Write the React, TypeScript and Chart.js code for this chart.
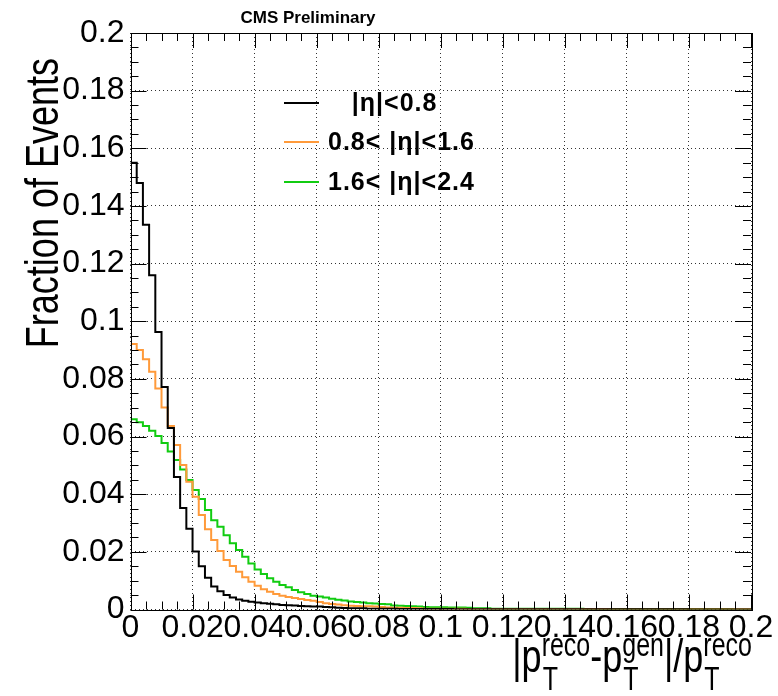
import React, { useEffect, useRef } from "react";
import { Chart, registerables } from "chart.js";

Chart.register(...registerables);

// Histogram range: 100 bins over [0, 0.2]
const xMin = 0;
const xMax = 0.2;

const xTickValues = [0, 0.02, 0.04, 0.06, 0.08, 0.1, 0.12, 0.14, 0.16, 0.18, 0.2];
const xTickLabels = ["0", "0.02", "0.04", "0.06", "0.08", "0.1", "0.12", "0.14", "0.16", "0.18", "0.2"];
const yTickValues = [0, 0.02, 0.04, 0.06, 0.08, 0.1, 0.12, 0.14, 0.16, 0.18, 0.2];
const yTickLabels = ["0", "0.02", "0.04", "0.06", "0.08", "0.1", "0.12", "0.14", "0.16", "0.18", "0.2"];

const seriesLabels = ["   |η|<0.8", "0.8< |η|<1.6", "1.6< |η|<2.4"];
const seriesColors = ["#000000", "#ff9a3a", "#11cc11"];

// Fraction of events per bin, |eta| < 0.8
const etaBarrel = [
  0.155, 0.148, 0.1335, 0.116, 0.0963, 0.0772, 0.063, 0.046, 0.0352, 0.028,
  0.0201, 0.015, 0.011, 0.008, 0.0063, 0.005, 0.0042, 0.0035, 0.003, 0.0027,
  0.0024, 0.0022, 0.002, 0.0018, 0.0016, 0.0015, 0.0014, 0.0012, 0.0011, 0.001,
  0.001, 0.0009, 0.0008, 0.0006, 0.0005, 0.0004, 0.0004, 0.0004, 0.0003, 0.0003,
  0.0003, 0.0003, 0.0003, 0.0002, 0.0002, 0.0002, 0.0002, 0.0002, 0.0002, 0.0002,
  0.0002, 0.0002, 0.0001, 0.0001, 0.0001, 0.0001, 0.0001, 0.0001, 0.0001, 0.0001,
  0.0001, 0.0001, 0.0001, 0.0001, 0.0001, 0.0001, 0.0001, 0.0001, 0.0001, 0.0001,
  0.0001, 0.0001, 0.0001, 0.0001, 0.0001, 0.0001, 0.0001, 0.00005, 0.00005, 0.00005,
  0.00005, 0.00005, 0.00005, 0.00005, 0.00005, 0.00005, 0.00005, 0.00005, 0.00005, 0.00005,
  0.00003, 0.00003, 0.00003, 0.00003, 0.00003, 0.00003, 0.00003, 0.00003, 0.00003, 0.00003,
];

// Fraction of events per bin, 0.8 < |eta| < 1.6
const etaOverlap = [
  0.0921, 0.09, 0.0868, 0.0825, 0.0767, 0.0701, 0.0637, 0.0571, 0.0501, 0.0443,
  0.0391, 0.0328, 0.0278, 0.0241, 0.0203, 0.0172, 0.0151, 0.0131, 0.0112, 0.0096,
  0.0082, 0.007, 0.0062, 0.0054, 0.0048, 0.0043, 0.004, 0.0036, 0.0033, 0.003,
  0.0026, 0.0022, 0.0019, 0.0017, 0.0015, 0.0013, 0.0012, 0.0011, 0.0011, 0.001,
  0.0009, 0.0007, 0.0006, 0.0006, 0.0005, 0.0005, 0.0004, 0.0003, 0.0003, 0.0003,
  0.0003, 0.0003, 0.0003, 0.0003, 0.0002, 0.0002, 0.0002, 0.0002, 0.0002, 0.0002,
  0.0002, 0.0002, 0.0002, 0.0002, 0.0002, 0.0002, 0.0002, 0.0002, 0.0002, 0.0002,
  0.0002, 0.0002, 0.0002, 0.0002, 0.0002, 0.0002, 0.0002, 0.0001, 0.0001, 0.0001,
  0.0001, 0.0001, 0.0001, 0.0001, 0.0001, 0.0001, 0.0001, 0.0001, 0.0001, 0.0001,
  0.0001, 0.0001, 0.0001, 0.0001, 0.0001, 0.0001, 0.0001, 0.0001, 0.00005, 0.00005,
];

// Fraction of events per bin, 1.6 < |eta| < 2.4
const etaEndcap = [
  0.066, 0.065, 0.0637, 0.062, 0.0602, 0.0578, 0.0548, 0.0519, 0.0486, 0.0449,
  0.0415, 0.0383, 0.0345, 0.031, 0.0287, 0.0258, 0.023, 0.0206, 0.0183, 0.016,
  0.0139, 0.0123, 0.0108, 0.0096, 0.0085, 0.0077, 0.0068, 0.006, 0.0054, 0.0048,
  0.0045, 0.0042, 0.0037, 0.0034, 0.0031, 0.0028, 0.0026, 0.0024, 0.0022, 0.0021,
  0.0019, 0.0018, 0.0014, 0.0013, 0.0012, 0.0011, 0.001, 0.0009, 0.0008, 0.0008,
  0.0008, 0.0007, 0.0007, 0.0007, 0.0006, 0.0004, 0.0004, 0.0004, 0.0003, 0.0003,
  0.0003, 0.0003, 0.0003, 0.0003, 0.0003, 0.0003, 0.0003, 0.0003, 0.0003, 0.0003,
  0.0003, 0.0003, 0.0003, 0.0002, 0.0002, 0.0002, 0.0002, 0.0002, 0.0002, 0.0002,
  0.0002, 0.0002, 0.0002, 0.0002, 0.0002, 0.0002, 0.0002, 0.0002, 0.0002, 0.0002,
  0.0002, 0.0002, 0.0002, 0.0002, 0.0002, 0.0002, 0.0002, 0, 0, 0,
];

const FONT = "'Liberation Sans', Arial, Helvetica, sans-serif";
// Axis titles are drawn with taller glyphs than their width suggests
const TITLE_STRETCH = 1.3;

// Convert bin contents into step points at the low bin edges plus the upper edge.
function toSteps(values: number[]) {
  const w = (xMax - xMin) / values.length;
  const pts = values.map((v, i) => ({ x: xMin + i * w, y: v }));
  pts.push({ x: xMax, y: values[values.length - 1] });
  return pts;
}

// Draw text whose glyphs are stretched upward from the baseline.
function tallText(ctx: CanvasRenderingContext2D, text: string, x: number, y: number) {
  ctx.save();
  ctx.translate(x, y);
  ctx.scale(1, TITLE_STRETCH);
  ctx.fillText(text, 0, 0);
  ctx.restore();
}

// Frame, inward ticks on all four sides, titles, legend and header text.
const decorations = {
  id: "rootStyleDecorations",
  afterDatasetsDraw(chart: any) {
    const { ctx, chartArea: a, scales } = chart;
    const xs = scales.x;
    const ys = scales.y;
    ctx.save();
    ctx.strokeStyle = "#000";
    ctx.lineWidth = 1;

    // Ticks: majors at tick values, three minors in between
    const drawTicks = (vals: number[], isX: boolean) => {
      const major = isX ? 15 : 16;
      const minor = 8;
      for (let i = 0; i < vals.length; i++) {
        const list: [number, number][] = [[vals[i], major]];
        if (i < vals.length - 1) {
          const step = (vals[i + 1] - vals[i]) / 4;
          for (let k = 1; k < 4; k++) list.push([vals[i] + k * step, minor]);
        }
        for (const [v, len] of list) {
          ctx.beginPath();
          if (isX) {
            const px = Math.round(xs.getPixelForValue(v)) + 0.5;
            ctx.moveTo(px, a.bottom);
            ctx.lineTo(px, a.bottom - len);
            ctx.moveTo(px, a.top);
            ctx.lineTo(px, a.top + len);
          } else {
            const py = Math.round(ys.getPixelForValue(v)) + 0.5;
            ctx.moveTo(a.left, py);
            ctx.lineTo(a.left + len, py);
            ctx.moveTo(a.right, py);
            ctx.lineTo(a.right - len, py);
          }
          ctx.stroke();
        }
      }
    };
    drawTicks(xTickValues, true);
    drawTicks(yTickValues, false);

    ctx.strokeRect(Math.round(a.left) + 0.5, Math.round(a.top) + 0.5,
      Math.round(a.right - a.left), Math.round(a.bottom - a.top));

    ctx.fillStyle = "#000";

    // Header
    ctx.font = `bold 17px ${FONT}`;
    ctx.textAlign = "center";
    ctx.textBaseline = "alphabetic";
    ctx.fillText("CMS Preliminary", 308, 23);

    // Y title, right-aligned to the top of the axis
    ctx.save();
    ctx.translate(58, 58);
    ctx.rotate(-Math.PI / 2);
    ctx.font = `36px ${FONT}`;
    ctx.textAlign = "right";
    tallText(ctx, "Fraction of Events", 0, 0);
    ctx.restore();

    // X title with super/subscripts
    const parts = [
      { main: "|p", sup: "reco", sub: "T" },
      { main: "-p", sup: "gen", sub: "T" },
      { main: "|/p", sup: "reco", sub: "T" },
    ];
    const mainFont = `36px ${FONT}`;
    const scriptFont = `25px ${FONT}`;
    let total = 0;
    const widths = parts.map((p) => {
      ctx.font = mainFont;
      const mw = ctx.measureText(p.main).width;
      ctx.font = scriptFont;
      const sw = Math.max(ctx.measureText(p.sup).width, ctx.measureText(p.sub).width);
      total += mw + sw;
      return [mw, sw];
    });
    let x = 752 - total;
    ctx.textAlign = "left";
    parts.forEach((p, i) => {
      ctx.font = mainFont;
      tallText(ctx, p.main, x, 672);
      x += widths[i][0];
      ctx.font = scriptFont;
      tallText(ctx, p.sup, x, 656);
      tallText(ctx, p.sub, x + 1, 690);
      x += widths[i][1];
    });

    // Legend
    const legendY = [103, 142, 182];
    chart.data.datasets.forEach((ds: any, i: number) => {
      ctx.strokeStyle = ds.borderColor;
      ctx.lineWidth = 2;
      ctx.beginPath();
      ctx.moveTo(284, legendY[i]);
      ctx.lineTo(319, legendY[i]);
      ctx.stroke();
      ctx.font = `bold 25px ${FONT}`;
      (ctx as any).letterSpacing = "1px";
      ctx.textBaseline = "middle";
      ctx.fillStyle = "#000";
      ctx.fillText(ds.label, 328, legendY[i] + 1);
      (ctx as any).letterSpacing = "0px";
    });
    ctx.restore();
  },
};

export default function App() {
  const canvasRef = useRef<HTMLCanvasElement | null>(null);

  useEffect(() => {
    if (!canvasRef.current) return;
    const series = [etaBarrel, etaOverlap, etaEndcap];
    const chart = new Chart(canvasRef.current, {
      type: "line",
      data: {
        datasets: series.map((vals, i) => ({
          label: seriesLabels[i],
          data: toSteps(vals),
          borderColor: seriesColors[i],
          backgroundColor: seriesColors[i],
          borderWidth: 2,
          pointRadius: 0,
          stepped: true,
          fill: false,
        })),
      },
      options: {
        animation: false,
        responsive: false,
        layout: { padding: { left: 0, top: 33, right: 27, bottom: 0 } },
        plugins: {
          legend: { display: false },
          tooltip: { enabled: false },
        },
        scales: {
          x: {
            type: "linear",
            min: xMin,
            max: xMax,
            afterBuildTicks: (scale: any) => {
              scale.ticks = xTickValues.map((v) => ({ value: v }));
            },
            afterFit: (scale: any) => {
              scale.height = 86.5;
            },
            ticks: {
              autoSkip: false,
              maxRotation: 0,
              minRotation: 0,
              padding: 3,
              color: "#000",
              font: { family: FONT, size: 32, lineHeight: 1 },
              callback: (_v: any, i: number) => xTickLabels[i],
            },
            grid: {
              color: "rgba(0,0,0,0.8)",
              lineWidth: 1,
              drawTicks: false,
            },
            border: { display: false, dash: [1, 3] },
          },
          y: {
            type: "linear",
            min: 0,
            max: 0.2,
            afterBuildTicks: (scale: any) => {
              scale.ticks = yTickValues.map((v) => ({ value: v }));
            },
            afterFit: (scale: any) => {
              scale.width = 130.5;
            },
            ticks: {
              padding: 6,
              color: "#000",
              font: { family: FONT, size: 32, lineHeight: 1 },
              callback: (_v: any, i: number) => yTickLabels[i],
            },
            grid: {
              color: "rgba(0,0,0,0.8)",
              lineWidth: 1,
              drawTicks: false,
            },
            border: { display: false, dash: [1, 3] },
          },
        },
      },
      plugins: [decorations],
    });
    return () => chart.destroy();
  }, []);

  return (
    <div style={{ position: "fixed", left: 0, top: 0, width: 778, height: 696, background: "#fff" }}>
      <canvas ref={canvasRef} width={778} height={696} style={{ display: "block" }} />
    </div>
  );
}
